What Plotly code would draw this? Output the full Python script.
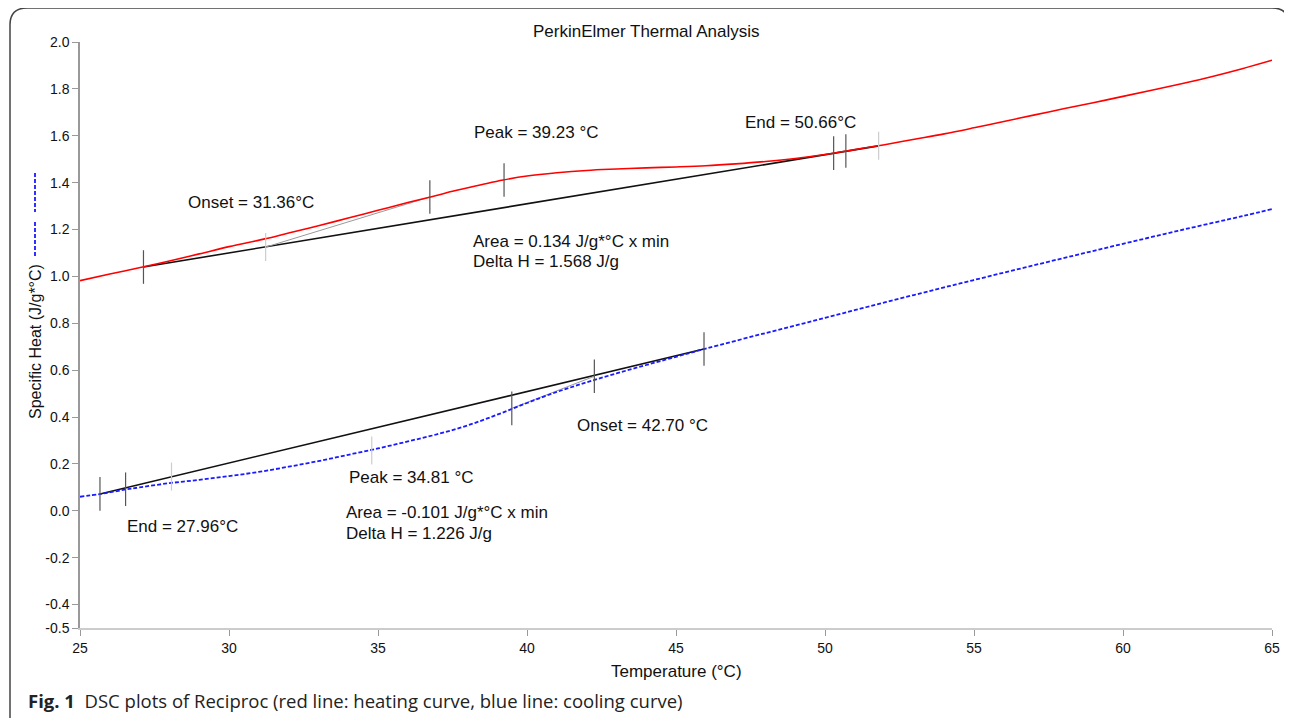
import plotly.graph_objects as go

# ---------------- data ----------------
heat_T = [25.0, 26.0, 27.1, 28.0, 29.0, 30.0, 31.2, 32.0, 33.0, 34.0, 35.0, 36.0, 36.8, 37.5,
          38.5, 39.2, 40.0, 41.0, 42.0, 43.0, 44.0, 45.0, 46.0, 47.0, 48.0, 49.0, 50.0, 51.0,
          52.0, 53.0, 54.0, 55.0, 56.0, 57.0, 58.0, 59.0, 60.0, 61.0, 62.0, 63.0, 64.0, 65.0]
heat_cp = [0.982, 1.010, 1.040, 1.066, 1.096, 1.127, 1.160, 1.185, 1.216, 1.249, 1.282, 1.315, 1.340, 1.363,
           1.392, 1.411, 1.428, 1.442, 1.452, 1.458, 1.463, 1.467, 1.472, 1.480, 1.490, 1.503, 1.520, 1.541,
           1.562, 1.585, 1.608, 1.634, 1.661, 1.688, 1.715, 1.741, 1.768, 1.795, 1.823, 1.853, 1.886, 1.922]

cool_T = [25.0, 25.7, 26.5, 27.0, 28.0, 29.0, 30.0, 31.0, 32.0, 33.0, 34.0, 35.0, 36.0, 37.0, 38.0,
          39.0, 40.0, 41.0, 42.0, 43.0, 44.0, 45.0, 46.0, 48.0, 50.0, 52.0, 54.0, 56.0, 58.0, 60.0,
          62.0, 64.0, 65.0]
cool_cp = [0.060, 0.072, 0.090, 0.100, 0.118, 0.132, 0.148, 0.166, 0.188, 0.212, 0.239, 0.266, 0.296, 0.327, 0.364,
           0.410, 0.460, 0.507, 0.548, 0.586, 0.622, 0.657, 0.692, 0.758, 0.823, 0.889, 0.953, 1.016, 1.078, 1.139,
           1.199, 1.257, 1.287]

heat_base_T = [27.13, 51.8]
heat_base_cp = [1.040, 1.557]
cool_base_T = [25.67, 45.94]
cool_base_cp = [0.072, 0.690]

heat_tan_T = [31.23, 36.74]
heat_tan_cp = [1.125, 1.339]
cool_tan_T = [39.49, 42.26]
cool_tan_cp = [0.437, 0.574]

dark_tick_T = [27.13, 36.74, 39.23, 50.29, 50.70, 25.67, 26.53, 39.49, 42.26, 45.94]
dark_tick_cp = [1.040, 1.339, 1.411, 1.526, 1.535, 0.072, 0.092, 0.437, 0.574, 0.690]
light_tick_T = [31.23, 51.8, 28.07, 34.79]
light_tick_cp = [1.125, 1.557, 0.146, 0.257]

x_ticks = [25, 30, 35, 40, 45, 50, 55, 60, 65]
y_ticks = [2.0, 1.8, 1.6, 1.4, 1.2, 1.0, 0.8, 0.6, 0.4, 0.2, 0.0, -0.2, -0.4, -0.5]
y_tick_text = ["2.0", "1.8", "1.6", "1.4", "1.2", "1.0", "0.8", "0.6", "0.4", "0.2", "0.0", "-0.2", "-0.4", "-0.5"]

labels = [
    ("Onset = 31.36°C", 28.56, 1.317),
    ("Peak = 39.23 °C", 38.15, 1.616),
    ("End = 50.66°C", 47.25, 1.655),
    ("Area = 0.134 J/g*°C x min", 38.12, 1.147),
    ("Delta H = 1.568 J/g", 38.12, 1.062),
    ("Onset = 42.70 °C", 41.61, 0.366),
    ("Peak = 34.81 °C", 33.96, 0.144),
    ("Area = -0.101 J/g*°C x min", 33.86, -0.009),
    ("Delta H = 1.226 J/g", 33.86, -0.095),
    ("End = 27.96°C", 26.51, -0.069),
]

# ---------------- layout geometry ----------------
OFF = 8  # page body margin of the written html
W, H = 1292 - OFF, 718 - OFF
PLOT_L, PLOT_R, PLOT_T, PLOT_B = 80, 1272, 42, 628  # in screenshot pixels
ML = PLOT_L - OFF
MR = W - (PLOT_R - OFF)
MT = PLOT_T - OFF
MB = H - (PLOT_B - OFF)
PW, PH = PLOT_R - PLOT_L, PLOT_B - PLOT_T


def px(xp):
    return (xp - PLOT_L) / PW


def py(yp):
    return (PLOT_B - yp) / PH


FONT = "Arial, Liberation Sans, sans-serif"

fig = go.Figure()

fig.add_trace(go.Scatter(x=heat_base_T, y=heat_base_cp, mode="lines",
                         line=dict(color="#111111", width=1.6), hoverinfo="skip"))
fig.add_trace(go.Scatter(x=cool_base_T, y=cool_base_cp, mode="lines",
                         line=dict(color="#111111", width=1.6), hoverinfo="skip"))
fig.add_trace(go.Scatter(x=heat_tan_T, y=heat_tan_cp, mode="lines",
                         line=dict(color="#999999", width=1), hoverinfo="skip"))
fig.add_trace(go.Scatter(x=cool_tan_T, y=cool_tan_cp, mode="lines",
                         line=dict(color="#999999", width=1), hoverinfo="skip"))
fig.add_trace(go.Scatter(x=heat_T, y=heat_cp, mode="lines", line_shape="spline",
                         line=dict(color="#ff0000", width=1.6), name="Heating"))
fig.add_trace(go.Scatter(x=cool_T, y=cool_cp, mode="lines", line_shape="spline",
                         line=dict(color="#1a1aff", width=1.8, dash="4px,2px"), name="Cooling"))
fig.add_trace(go.Scatter(x=dark_tick_T, y=dark_tick_cp, mode="markers",
                         marker=dict(symbol="line-ns", size=24, line=dict(color="#555555", width=1.2)),
                         hoverinfo="skip"))
fig.add_trace(go.Scatter(x=light_tick_T, y=light_tick_cp, mode="markers",
                         marker=dict(symbol="line-ns", size=20, line=dict(color="#cccccc", width=1.2)),
                         hoverinfo="skip"))

annotations = []
for text, x, y in labels:
    annotations.append(dict(text=text, x=x, y=y, xref="x", yref="y", xanchor="left", yanchor="middle",
                            showarrow=False, font=dict(family=FONT, size=17, color="#111111")))

annotations.append(dict(text="PerkinElmer Thermal Analysis", x=px(646), y=py(32), xref="paper", yref="paper",
                        xanchor="center", yanchor="middle", showarrow=False,
                        font=dict(family=FONT, size=17, color="#111111")))
annotations.append(dict(text="Specific Heat (J/g*°C)", x=px(35), y=py(342), xref="paper", yref="paper",
                        xanchor="center", yanchor="middle", textangle=-90, showarrow=False,
                        font=dict(family=FONT, size=16, color="#111111")))
annotations.append(dict(text="Temperature (°C)", x=px(676), y=py(671), xref="paper", yref="paper",
                        xanchor="center", yanchor="middle", showarrow=False,
                        font=dict(family=FONT, size=17, color="#111111")))
annotations.append(dict(text="<b>Fig. 1</b>  DSC plots of Reciproc (red line: heating curve, blue line: cooling curve)",
                        x=px(26), y=py(700), xref="paper", yref="paper", xanchor="left", yanchor="middle",
                        showarrow=False, font=dict(family="Open Sans, sans-serif", size=18.5, color="#222222")))

# frame with rounded top corners
r = 17
fx0, fx1, fy0, fy1 = 10, 1289, 8, 760
path = (f"M {px(fx0)},{py(fy1)} L {px(fx0)},{py(fy0 + r)} "
        f"Q {px(fx0)},{py(fy0)} {px(fx0 + r)},{py(fy0)} "
        f"L {px(fx1 - r)},{py(fy0)} Q {px(fx1)},{py(fy0)} {px(fx1)},{py(fy0 + r)} "
        f"L {px(fx1)},{py(fy1)}")
shapes = [
    dict(type="path", path=path, xref="paper", yref="paper", line=dict(color="#444444", width=1.5)),
    dict(type="line", xref="paper", yref="paper", x0=px(35), x1=px(35), y0=py(173), y1=py(212),
         line=dict(color="#1a1aff", width=1.8, dash="4px,2px")),
    dict(type="line", xref="paper", yref="paper", x0=px(35), x1=px(35), y0=py(222), y1=py(258),
         line=dict(color="#1a1aff", width=1.8, dash="4px,2px")),
]

fig.update_layout(
    width=W, height=H,
    margin=dict(l=ML, r=MR, t=MT, b=MB),
    paper_bgcolor="white", plot_bgcolor="white",
    showlegend=False,
    annotations=annotations,
    shapes=shapes,
    font=dict(family=FONT, size=14, color="#111111"),
    xaxis=dict(range=[25, 65], tickvals=x_ticks, ticks="outside", ticklen=6, tickcolor="#999999",
               showgrid=False, zeroline=False, showline=True, linecolor="#cccccc", linewidth=1.5,
               tickfont=dict(family=FONT, size=14, color="#111111")),
    yaxis=dict(range=[-0.5, 2.0], tickvals=y_ticks, ticktext=y_tick_text, ticks="outside", ticklen=6,
               tickcolor="#999999", showgrid=False, zeroline=False, showline=True, linecolor="#999999",
               linewidth=1.5, tickfont=dict(family=FONT, size=14, color="#111111")),
)

fig.write_html("out.html")
